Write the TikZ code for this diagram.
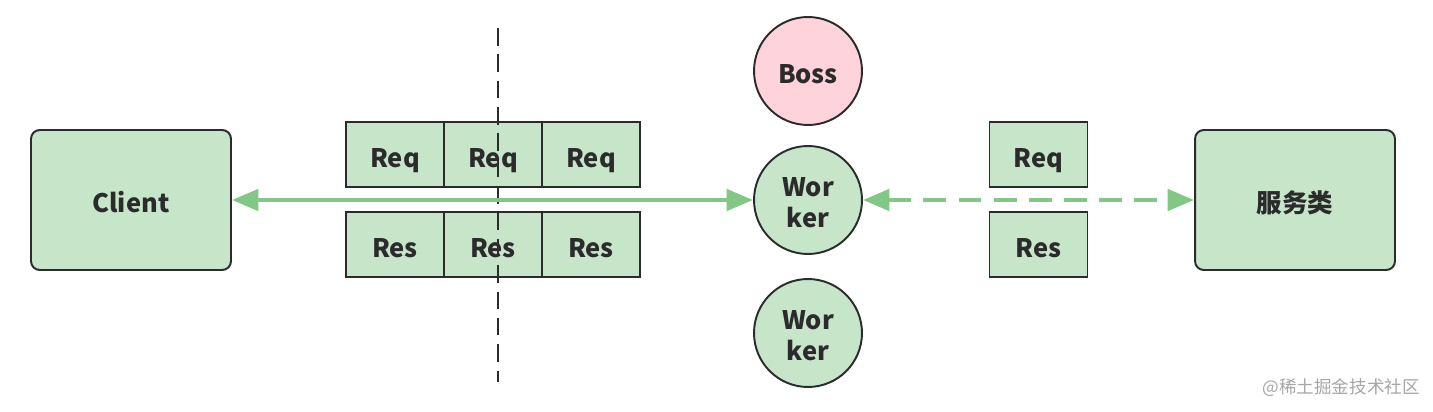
\documentclass[tikz,border=0pt]{standalone}
\usepackage{fontspec}
\setmainfont{Noto Sans CJK SC}
\usetikzlibrary{arrows.meta}
\definecolor{boxgreen}{HTML}{C6E5C9}
\definecolor{bosspink}{HTML}{FFD3DB}
\definecolor{linegreen}{HTML}{82C785}
\definecolor{edge}{HTML}{2B2B2B}
\begin{document}
\begin{tikzpicture}[x=0.02cm,y=-0.02cm,
        every node/.style={font=\fontsize{14.5}{18}\selectfont\bfseries,text=edge},
        lowtext/.style={text height=15pt,text depth=0.5pt},
        bigbox/.style={draw=edge,line width=1.1pt,fill=boxgreen,rounded corners=5pt,minimum width=4cm,minimum height=2.8cm,lowtext},
        msgbox/.style={draw=edge,line width=1.1pt,fill=boxgreen,minimum width=1.96cm,minimum height=1.3cm,inner sep=0pt,lowtext},
        thread/.style={draw=edge,line width=1.1pt,fill=boxgreen,circle,minimum size=2.16cm,inner sep=0pt,align=center},
        flow/.style={draw=linegreen,line width=2.4pt,{Triangle[length=15pt,width=12pt]}-{Triangle[length=15pt,width=12pt]}}]
                    \useasboundingbox (0,0) rectangle (1433,412);

                    \node[bigbox] (client) at (131,200) {Client};
                    \node[bigbox] (service) at (1295,200) {服务类};

                    \node[msgbox] (req_1) at (395,154.5) {Req};
                    \node[msgbox] (req_2) at (493,154.5) {Req};
                    \node[msgbox] (req_3) at (591,154.5) {Req};
                    \node[msgbox] (res_1) at (395,244.5) {Res};
                    \node[msgbox] (res_2) at (493,244.5) {Res};
                    \node[msgbox] (res_3) at (591,244.5) {Res};
                    \node[msgbox] (req_4) at (1038.5,154.5) {Req};
                    \node[msgbox] (res_4) at (1038.5,244.5) {Res};

                    \node[thread,fill=bosspink,lowtext] (boss) at (808,71) {Boss};
                    \node[thread] (worker_1) at (808,200) {\rule{0pt}{0.95em}Wor\\ker};
                    \node[thread] (worker_2) at (808,333) {\rule{0pt}{0.95em}Wor\\ker};

                    \coordinate (cut_top) at (498,28);
                    \coordinate (cut_bot) at (498,382);
                    \draw[edge,line width=1.1pt,dash pattern=on 10pt off 5pt] (cut_top) -- (cut_bot);

                    \draw[flow] (client.east) -- (worker_1.west);
                    \draw[flow,dash pattern=on 13pt off 7pt] (worker_1.east) -- (service.west);

                    \node[font=\fontsize{10}{12}\selectfont,text=gray!70,anchor=east] (mark) at (1426,388) {@稀土掘金技术社区};
                \end{tikzpicture}
\end{document}
